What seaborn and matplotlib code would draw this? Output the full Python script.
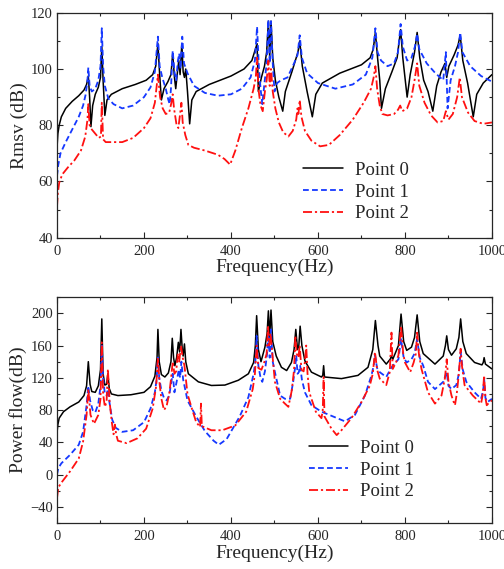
import matplotlib
matplotlib.use("Agg")
import matplotlib.pyplot as plt
from matplotlib.ticker import MultipleLocator
import seaborn as sns

# ---- Rmsv (top panel) ----
rmsv_f0 = [0, 2, 5, 10, 20, 35, 50, 62, 68, 72, 75, 78, 82, 88, 95, 100, 103, 106, 110, 115, 125, 150, 180,
           205, 220, 227, 232, 236, 240, 246, 255, 262, 266, 270, 273, 277, 280, 283, 287, 290, 293, 296, 300,
           305, 310, 320, 350, 400, 430, 448, 456, 460, 463, 470, 477, 482, 486, 489, 492, 496, 502, 510, 519,
           525, 540, 550, 554, 558, 564, 575, 587, 595, 610, 650, 700, 720, 727, 732, 737, 742, 746, 755, 770,
           782, 786, 790, 795, 800, 805, 812, 822, 828, 834, 843, 853, 864, 873, 883, 892, 896, 901, 913, 922,
           927, 933, 944, 957, 965, 980, 1000]
rmsv_v0 = [72, 77, 80, 83, 86, 88.5, 90.5, 92.5, 94.5, 97.5, 90, 79.5, 87, 91, 93.5, 97, 108, 96, 83.5, 89, 91, 93,
           94.5, 96, 98, 101, 109, 98, 89, 93, 95.5, 98, 105.5, 97, 93, 99, 103, 98, 109, 99, 97, 100, 92,
           80.5, 89, 92, 94.5, 97.5, 100, 103, 107, 109, 92, 97, 101, 106, 117, 104, 117, 104, 96, 90, 85,
           92, 99, 104, 106, 110, 101, 92, 83, 91, 95, 98.5, 101.5, 104, 107, 113, 104, 96, 86, 93, 99,
           104, 109, 114, 104, 97, 90, 98, 106, 113, 104, 96, 92, 85, 94, 99, 102, 97, 101, 105, 108.5,
           112, 103, 95, 83, 91, 95, 98]

rmsv_f1 = [0, 3, 8, 20, 35, 50, 60, 66, 70, 72, 75, 80, 88, 95, 100, 103, 106, 110, 118, 130, 150, 175, 200,
           215, 225, 232, 236, 242, 250, 256, 259, 262, 266, 270, 274, 278, 281, 284, 288, 292, 300, 315, 340,
           370, 400, 425, 445, 455, 460, 464, 468, 472, 477, 482, 486, 489, 492, 496, 500, 506, 515, 530, 545,
           553, 558, 563, 575, 600, 640, 680, 710, 725, 732, 737, 745, 760, 775, 784, 790, 795, 805, 815, 823,
           828, 833, 850, 870, 888, 894, 898, 905, 915, 922, 927, 932, 950, 975, 1000]
rmsv_v1 = [62, 66, 70, 74, 78.5, 83, 87, 91, 96, 100.5, 94, 92, 93, 96, 101, 114.5, 101, 94, 89.5, 87.5, 86, 87, 90,
           93.5, 99, 111.5, 101, 97, 93, 89, 87.5, 93, 106.5, 99, 96, 103, 105.5, 100, 111.5, 102, 98.5, 94, 91.5,
           90.5, 91, 93, 97, 103, 115, 101, 93, 87.5, 95, 102, 117.5, 102, 117, 102, 92, 95, 96, 97, 102,
           105, 112, 104, 98.5, 95, 93, 94.5, 98, 104, 114.5, 106, 103, 101, 102, 106, 116, 108, 103, 104, 108,
           112.5, 107, 102, 98.5, 96, 106, 86, 96, 101, 106, 113, 106, 101, 97.5, 95.5]

rmsv_f2 = [0, 2, 5, 12, 25, 40, 55, 65, 70, 72, 75, 80, 88, 96, 101, 103, 106, 112, 125, 150, 175, 200, 215,
           225, 232, 237, 243, 250, 258, 263, 266, 269, 275, 279, 283, 286, 289, 295, 302, 315, 340, 370, 385,
           398, 410, 425, 440, 452, 457, 460, 463, 468, 473, 478, 482, 486, 489, 492, 496, 502, 510, 520, 532,
           542, 550, 553, 555, 558, 562, 570, 585, 605, 625, 650, 680, 705, 722, 728, 732, 736, 742, 748, 760,
           775, 784, 789, 794, 805, 815, 822, 828, 833, 845, 860, 875, 888, 894, 900, 910, 920, 926, 931, 945,
           960, 980, 1000]
rmsv_v2 = [51, 56, 59.5, 62.5, 65, 67.5, 71, 76, 82, 87.5, 80, 78.5, 77, 75.5, 76, 88, 75, 74, 74, 74, 75.5, 79, 82.5,
           88, 98, 90, 86, 84, 84.5, 88, 91, 86, 80, 79, 84, 88, 81, 76.5, 73, 72, 71, 69.5, 68,
           66, 71, 79, 86, 93, 97, 104, 93, 87, 85, 92, 96, 103, 94, 100, 92, 86, 81, 77.5, 76,
           78, 82, 86, 84, 89, 83, 78, 74.5, 72.5, 73, 76.5, 82, 88, 93, 97, 101, 93, 87, 84, 83.5,
           84, 85.5, 87, 85, 86, 90, 96, 102, 94, 88, 83.5, 81, 81.5, 85, 82, 84, 90, 97, 90, 84.5,
           81.5, 80.5, 81]

# ---- Power flow (bottom panel) ----
pf_f0 = [0, 2, 5, 15, 30, 50, 62, 68, 72, 76, 80, 88, 95, 100, 103, 106, 110, 114, 117, 120, 125, 140, 170,
         200, 215, 225, 230, 232, 235, 240, 248, 256, 262, 265, 268, 271, 275, 279, 282, 285, 288, 290, 293,
         296, 302, 325, 355, 386, 417, 440, 452, 456, 459, 463, 469, 478, 483, 486, 489, 492, 496, 504, 516,
         528, 539, 545, 549, 553, 556, 559, 563, 570, 585, 608, 611, 613, 615, 654, 692, 715, 726, 732, 738,
         742, 757, 766, 769, 772, 785, 791, 797, 804, 815, 822, 828, 834, 842, 869, 888, 893, 896, 900, 907,
         918, 924, 928, 933, 941, 960, 977, 980, 982, 985, 1000]
pf_v0 = [52, 62, 70, 78, 84, 90, 98, 110, 140, 112, 103, 102, 110, 130, 193, 125, 111, 112, 125, 107, 100, 98, 99,
         102, 109, 122, 145, 180, 140, 124, 121, 126, 140, 169, 145, 135, 145, 164, 152, 180, 155, 147, 162,
         140, 125, 115, 110.5, 111, 117, 125, 139, 160, 197, 155, 140, 158, 175, 203, 170, 204, 165, 147, 133,
         129, 139, 155, 180, 155, 160, 184, 160, 141, 127, 121, 123, 135, 121, 119, 123, 133, 155, 191, 160,
         147, 137, 143, 147, 143, 160, 199, 165, 154, 158, 170, 198, 165, 150, 137, 147, 160, 172, 155, 148,
         156, 170, 193, 165, 150, 139, 136, 139, 145, 137, 131]

pf_f1 = [0, 3, 10, 30, 50, 60, 68, 72, 76, 82, 88, 95, 100, 103, 106, 110, 114, 117, 121, 127, 135, 150, 175,
         200, 215, 225, 229, 232, 235, 240, 246, 252, 258, 262, 266, 270, 275, 280, 283, 286, 290, 295, 300,
         320, 340, 360, 372, 390, 420, 440, 452, 456, 459, 463, 468, 472, 478, 483, 486, 489, 492, 496, 501,
         513, 524, 536, 543, 548, 550, 553, 556, 559, 563, 570, 585, 608, 662, 685, 708, 723, 728, 731, 736,
         742, 757, 769, 785, 791, 797, 804, 815, 822, 828, 834, 842, 853, 869, 888, 896, 900, 907, 918, 924,
         928, 933, 941, 960, 975, 980, 982, 985, 990, 1000]
pf_v1 = [0, 8, 14, 24.5, 37, 53, 86, 110, 92, 80, 77, 88, 110, 160, 120, 100, 98, 106, 88, 68, 58, 53, 55,
         65, 82, 102, 118, 145, 120, 104, 95, 92, 98, 112, 125, 102, 115, 130, 120, 140, 118, 105, 92,
         72, 54, 42, 37, 44, 72, 96, 125, 140, 172, 135, 120, 115, 128, 150, 175, 145, 180, 140, 127,
         98, 94, 94, 115, 135, 148, 125, 127, 135, 118, 102, 86, 78, 66, 74, 98, 123, 135, 148, 132,
         127, 121, 133, 143, 168, 145, 139, 143, 150, 168, 145, 135, 115, 106, 115, 127, 110, 106, 111, 125,
         152, 130, 115, 102, 94, 105, 119, 95, 90, 94]

pf_f2 = [0, 3, 10, 30, 50, 60, 68, 72, 77, 85, 95, 100, 103, 106, 110, 114, 117, 121, 126, 130, 133, 136, 140,
         160, 185, 205, 220, 228, 232, 236, 240, 246, 252, 258, 262, 266, 270, 274, 278, 281, 285, 289, 293,
         300, 310, 320, 329, 331, 333, 355, 380, 410, 435, 450, 455, 459, 463, 470, 477, 482, 485, 488, 491,
         495, 501, 513, 524, 532, 540, 545, 548, 551, 555, 558, 562, 567, 570, 573, 576, 580, 595, 608, 611,
         613, 615, 631, 643, 654, 677, 700, 719, 726, 731, 736, 742, 757, 765, 769, 772, 780, 785, 791, 796,
         800, 812, 820, 825, 828, 832, 838, 853, 869, 884, 892, 896, 900, 907, 912, 915, 919, 922, 926, 928,
         931, 937, 956, 975, 979, 982, 985, 988, 995, 1000]
pf_v2 = [-29, -16, -10, 4, 20, 41, 74, 106, 74, 63, 74, 94, 164, 100, 84, 90, 131, 90, 65, 50, 62, 50, 42,
         39, 45, 57, 82, 110, 145, 112, 94, 80, 85, 100, 118, 140, 125, 128, 150, 140, 160, 145, 135,
         100, 82, 65, 59, 88, 60, 55, 55, 61, 78, 106, 125, 160, 132, 130, 140, 150, 185, 160, 175,
         150, 115, 94, 88, 84, 105, 130, 172, 150, 145, 160, 130, 128, 140, 160, 125, 102, 78, 70, 80,
         121, 72, 57, 49, 55, 70, 90, 110, 125, 152, 130, 119, 111, 127, 176, 131, 140, 148, 184, 150,
         139, 127, 139, 150, 176, 150, 131, 102, 88, 98, 120, 143, 115, 98, 90, 86, 100, 115, 140, 156,
         135, 111, 98, 88, 100, 123, 95, 86, 90, 92]

labels = ["Point 0", "Point 1", "Point 2"]

sns.set_style("ticks")
plt.rcParams["font.family"] = ["Liberation Serif", "DejaVu Serif"]
plt.rcParams["mathtext.fontset"] = "stix"

fig = plt.figure(figsize=(5.04, 5.69), dpi=100)
ax1 = fig.add_axes([0.1131, 0.5822, 0.863, 0.3954])
ax2 = fig.add_axes([0.1131, 0.0808, 0.863, 0.397])

styles = [
    dict(color="black", lw=1.1, linestyle="-"),
    dict(color="#1538ff", lw=1.3, linestyle=(0, (3.2, 1.8))),
    dict(color="#ff1010", lw=1.3, linestyle=(0, (5, 1.6, 1.2, 1.6))),
]

panels = [
    (ax1, [(rmsv_f0, rmsv_v0), (rmsv_f1, rmsv_v1), (rmsv_f2, rmsv_v2)], "Rmsv (dB)", (40, 120), 20, 10, (0.566, 0.203)),
    (ax2, [(pf_f0, pf_v0), (pf_f1, pf_v1), (pf_f2, pf_v2)], "Power flow(dB)", (-60, 220), 40, 20, (0.579, 0.2345)),
]

for ax, series, ylab, ylim, ymaj, ymin, anchor in panels:
    for (f, v), lab, st in zip(series, labels, styles):
        sns.lineplot(x=f, y=v, ax=ax, label=lab, estimator=None, sort=False, **st)
    ax.set_xlim(0, 1000)
    ax.set_ylim(*ylim)
    ax.xaxis.set_major_locator(MultipleLocator(200))
    ax.xaxis.set_minor_locator(MultipleLocator(100))
    ax.yaxis.set_major_locator(MultipleLocator(ymaj))
    ax.yaxis.set_minor_locator(MultipleLocator(ymin))
    if ylim[0] < 0:
        ax.set_yticks(range(-40, 201, 40))
    ax.tick_params(which="both", direction="in", top=True, right=True, labelsize=10.5, width=0.8)
    ax.tick_params(which="major", length=4)
    ax.tick_params(which="minor", length=2.2)
    ax.tick_params(axis="x", pad=5)
    ax.tick_params(axis="y", pad=3)
    for sp in ax.spines.values():
        sp.set_linewidth(0.9)
    ax.set_xlabel("Frequency(Hz)", fontsize=14, labelpad=1)
    ax.set_ylabel(ylab, fontsize=14, labelpad=2)
    ax.legend(loc="center left", bbox_to_anchor=anchor, frameon=False, fontsize=13.5,
              handlelength=2.1, handletextpad=0.65, labelspacing=0.25,
              borderpad=0, borderaxespad=0)

fig.savefig("out.png", dpi=100)
